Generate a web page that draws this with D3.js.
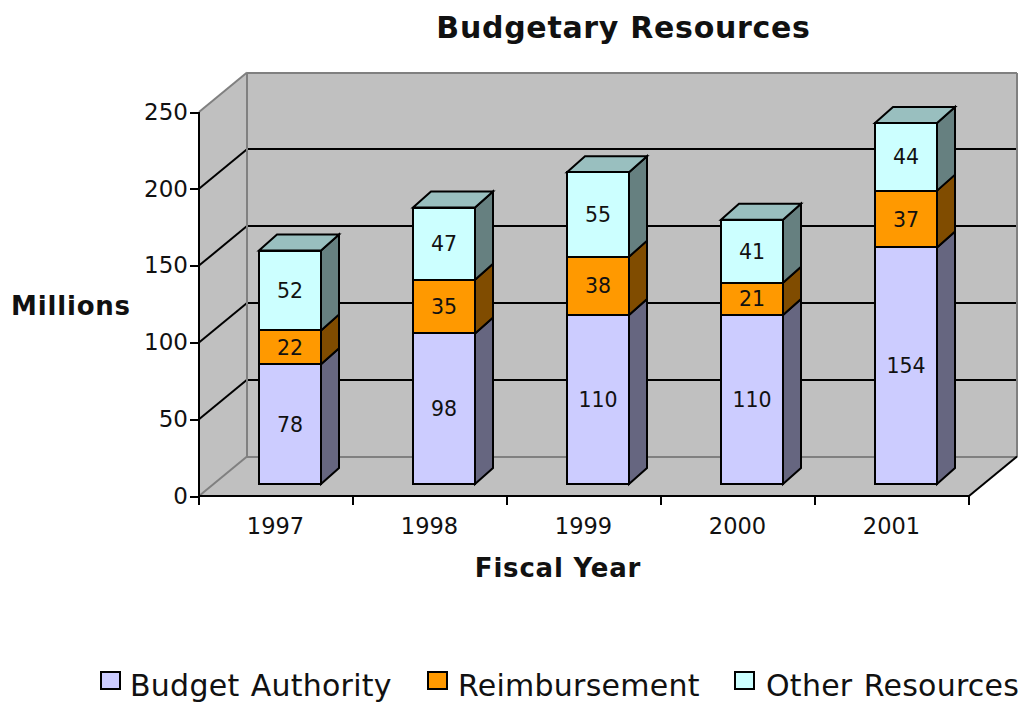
<!DOCTYPE html>
<html>
<head>
<meta charset="utf-8">
<script src="https://cdn.jsdelivr.net/npm/d3@7"></script>
<style>
  html, body { margin: 0; padding: 0; background: #fff; }
  text { font-family: "DejaVu Sans", Verdana, sans-serif; fill: #111; }
  rect, .straight { shape-rendering: crispEdges; }
</style>
</head>
<body>
<svg id="chart" width="1022" height="704"></svg>
<script>
// Budgetary resources by fiscal year, in millions
const years = ["1997", "1998", "1999", "2000", "2001"];
const budgetAuthority = [78, 98, 110, 110, 154];
const reimbursement = [22, 35, 38, 21, 37];
const otherResources = [52, 47, 55, 41, 44];
const yTicks = [0, 50, 100, 150, 200, 250];

const seriesList = [
  { name: "Budget Authority", values: budgetAuthority, front: "#CCCCFF", side: "#666680", top: "#9999BF" },
  { name: "Reimbursement", values: reimbursement, front: "#FF9900", side: "#804C00", top: "#BF7300" },
  { name: "Other Resources", values: otherResources, front: "#CCFFFF", side: "#668080", top: "#99BFBF" }
];

// Oblique projection: the wall sits behind the front plane, bars are shallower
const wallDx = 48, wallDy = -39.5;
const barDx = 18, barDy = -16;
const barNudgeX = 14, barNudgeY = -12;

const x = d3.scaleBand().domain(years).range([199, 969]).paddingInner(0).paddingOuter(0);
const y = d3.scaleLinear().domain([0, 250]).range([496, 112]);
const barWidth = 62;

const svg = d3.select("#chart");
const poly = pts => pts.map(p => p.join(",")).join(" ");

const xL = x.range()[0], xR = x.range()[1];
const y0 = y(0), yMax = y(250);
const backL = xL + wallDx, backR = xR + wallDx;
const backTop = yMax + wallDy, backBottom = y0 + wallDy;

// Walls and floor
const walls = svg.append("g");
walls.append("polygon")
  .attr("points", poly([[backL, backTop], [backR, backTop], [backR, backBottom], [backL, backBottom]]))
  .attr("fill", "#C0C0C0");
walls.append("polygon")
  .attr("points", poly([[xL, yMax], [backL, backTop], [backL, backBottom], [xL, y0]]))
  .attr("fill", "#C0C0C0");
walls.append("polygon")
  .attr("points", poly([[xL, y0], [backL, backBottom], [backR, backBottom], [xR, y0]]))
  .attr("fill", "#C0C0C0");

// Draws one stroked segment; axis-aligned ones stay pixel-snapped
function segment(parent, a, b) {
  const aligned = a[0] === b[0] || a[1] === b[1];
  return parent.append("line")
    .attr("class", aligned ? "straight" : null)
    .attr("x1", a[0]).attr("y1", a[1])
    .attr("x2", b[0]).attr("y2", b[1]);
}

// Gridlines run along the side wall and across the back wall
const grid = svg.append("g").attr("stroke", "#000").attr("stroke-width", 2);
yTicks.filter(t => t > 0 && t < 250).forEach(t => {
  segment(grid, [xL, y(t)], [backL, y(t) + wallDy]);
  segment(grid, [backL, y(t) + wallDy], [backR, y(t) + wallDy]);
});

// Grey outline of the wall edges
const edges = svg.append("g").attr("stroke", "#808080").attr("stroke-width", 2);
segment(edges, [xL, yMax], [backL, backTop]);
segment(edges, [backL, backTop], [backR, backTop]);
segment(edges, [backR, backTop], [backR, backBottom]);
segment(edges, [backR, backBottom], [backL, backBottom]);
segment(edges, [backL, backBottom], [xL, y0]);
segment(edges, [backL, backTop], [backL, backBottom]);
segment(svg.append("g").attr("stroke", "#000").attr("stroke-width", 2), [xR, y0], [backR, backBottom]);

// Front axes
const yAxis = svg.append("g")
  .attr("transform", `translate(${xL},0)`)
  .call(d3.axisLeft(y).tickValues(yTicks).tickSize(9).tickPadding(2));
const xAxis = svg.append("g")
  .attr("transform", `translate(0,${y0})`)
  .call(d3.axisBottom(x).tickValues([]).tickSize(0));
xAxis.selectAll("line.boundary")
  .data(years.map(d => x(d)).concat([xR]))
  .join("line")
  .attr("class", "boundary straight")
  .attr("x1", d => d).attr("x2", d => d)
  .attr("y1", 0).attr("y2", 9)
  .attr("stroke", "#000").attr("stroke-width", 2);
xAxis.selectAll("text.year")
  .data(years)
  .join("text")
  .attr("class", "year")
  .attr("x", d => x(d) + x.bandwidth() / 2 - 0.5)
  .attr("y", 38)
  .attr("text-anchor", "middle")
  .attr("font-size", 22.5)
  .text(d => d);
[yAxis, xAxis].forEach(a => {
  a.selectAll(".domain").attr("class", "domain straight").attr("stroke", "#000").attr("stroke-width", 2);
  a.selectAll(".tick line").attr("class", "straight").attr("stroke", "#000").attr("stroke-width", 2);
});
yAxis.selectAll(".tick text").attr("font-size", 23).attr("fill", "#111").style("font-family", '"DejaVu Sans", sans-serif');
yAxis.selectAll(".domain").attr("d", `M0,${yMax}V${y0}`);
xAxis.selectAll(".domain").attr("d", `M${xL},0H${xR}`);

// Stacked bars, one block per series, with side and cap faces
const barsLayer = svg.append("g").attr("stroke", "#000").attr("stroke-width", 2).attr("stroke-linejoin", "miter");
years.forEach((year, i) => {
  const left = x(year) + (x.bandwidth() - barWidth) / 2 + barNudgeX;
  const right = left + barWidth;
  let cum = 0;
  seriesList.forEach((s, si) => {
    const v = s.values[i];
    const yb = y(cum) + barNudgeY;
    const yt = y(cum + v) + barNudgeY;
    cum += v;
    const g = barsLayer.append("g");
    g.append("polygon")
      .attr("points", poly([[right, yb], [right + barDx, yb + barDy], [right + barDx, yt + barDy], [right, yt]]))
      .attr("fill", s.side);
    if (si === seriesList.length - 1) {
      g.append("polygon")
        .attr("points", poly([[left, yt], [left + barDx, yt + barDy], [right + barDx, yt + barDy], [right, yt]]))
        .attr("fill", s.top);
    }
    g.append("rect")
      .attr("x", left).attr("y", yt)
      .attr("width", barWidth).attr("height", yb - yt)
      .attr("fill", s.front);
    g.append("text")
      .attr("x", (left + right) / 2)
      .attr("y", (yt + yb) / 2 + 7.5)
      .attr("text-anchor", "middle")
      .attr("font-size", 20.5)
      .attr("stroke", "none")
      .text(v);
  });
});

// Titles
svg.append("text").attr("x", 623.5).attr("y", 38).attr("text-anchor", "middle")
  .attr("font-size", 30).attr("letter-spacing", 0.7).attr("font-weight", "bold").text("Budgetary Resources");
svg.append("text").attr("x", 71).attr("y", 315).attr("text-anchor", "middle")
  .attr("font-size", 26).attr("letter-spacing", 0.8).attr("font-weight", "bold").text("Millions");
svg.append("text").attr("x", 558).attr("y", 577).attr("text-anchor", "middle")
  .attr("font-size", 26).attr("letter-spacing", 0.8).attr("font-weight", "bold").text("Fiscal Year");

// Legend
const legendTextX = [130, 458, 766];
const legendSwatchX = [101, 428, 735];
const legend = svg.append("g");
seriesList.forEach((s, i) => {
  legend.append("rect")
    .attr("x", legendSwatchX[i]).attr("y", 672)
    .attr("width", 19).attr("height", 17)
    .attr("fill", s.front).attr("stroke", "#000").attr("stroke-width", 2);
  legend.append("text")
    .attr("x", legendTextX[i]).attr("y", 696)
    .attr("font-size", 30)
    .attr("letter-spacing", 0.25)
    .attr("word-spacing", 1.5)
    .text(s.name);
});
</script>
</body>
</html>
